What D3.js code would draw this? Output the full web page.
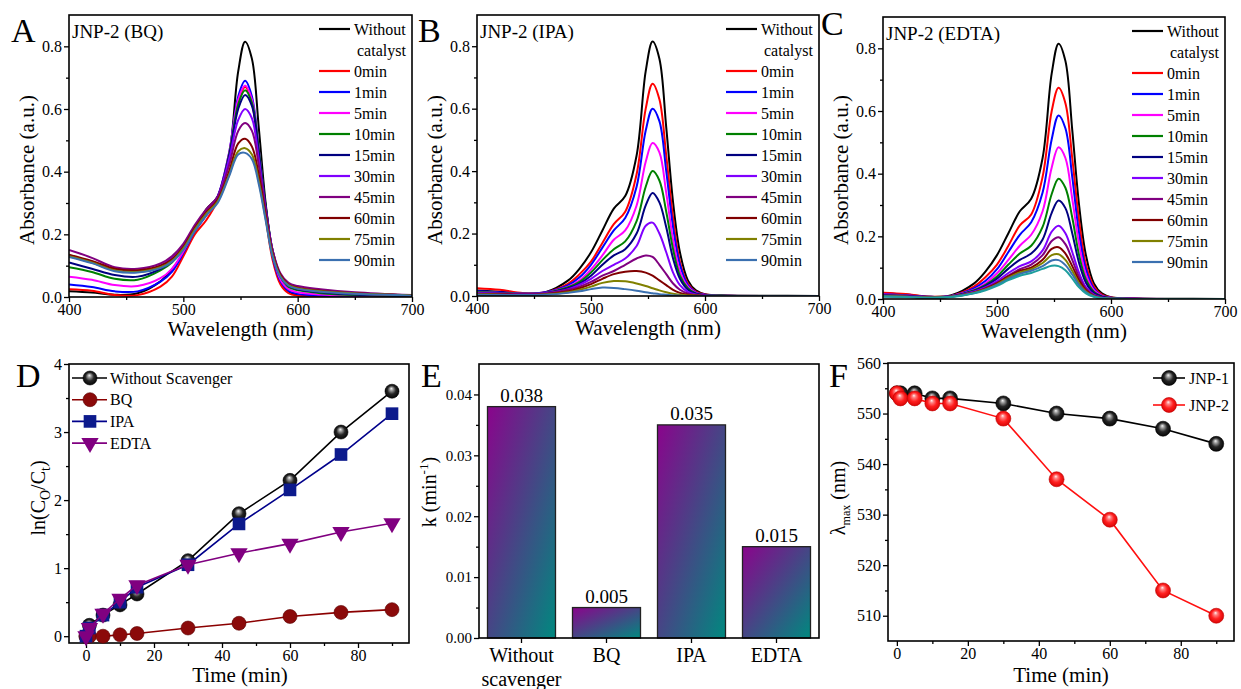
<!DOCTYPE html>
<html>
<head>
<meta charset="utf-8">
<script src="https://cdn.jsdelivr.net/npm/d3@7"></script>
<style>
body { margin: 0; background: #fff; }
svg { display: block; font-family: "Liberation Serif", "Times New Roman", serif; }
</style>
</head>
<body>
<script>
// ---- spectra (A, B, C) ----
const wavelengths = [400, 420, 440, 460, 480, 490, 500, 510, 520, 530, 540, 548, 554, 560, 566, 572, 578, 585, 592, 600, 620, 650, 700];
const specLabels = ["Without catalyst", "0min", "1min", "5min", "10min", "15min", "30min", "45min", "60min", "75min", "90min"];
const specColors = ["#000000", "#ff0000", "#0000ff", "#ff00ff", "#008000", "#000080", "#8000ff", "#800080", "#800000", "#808000", "#3a70b0", "#1e9e9e"];

const noCatalyst = [0.018, 0.014, 0.007, 0.012, 0.05, 0.088, 0.14, 0.21, 0.28, 0.32, 0.45, 0.72, 0.815, 0.76, 0.54, 0.3, 0.14, 0.05, 0.018, 0.006, 0.002, 0.001, 0];

const bqSpectra = [
  [0.025, 0.02, 0.006, 0.006, 0.033, 0.065, 0.13, 0.2, 0.245, 0.31, 0.45, 0.62, 0.67, 0.62, 0.45, 0.26, 0.12, 0.04, 0.012, 0.004, 0.002, 0.001, 0],
  [0.04, 0.032, 0.018, 0.018, 0.049, 0.08, 0.14, 0.21, 0.26, 0.32, 0.46, 0.64, 0.69, 0.64, 0.47, 0.28, 0.13, 0.05, 0.02, 0.01, 0.005, 0.003, 0.002],
  [0.065, 0.055, 0.038, 0.035, 0.06, 0.09, 0.145, 0.215, 0.265, 0.32, 0.46, 0.63, 0.675, 0.63, 0.47, 0.28, 0.14, 0.055, 0.025, 0.015, 0.008, 0.004, 0.002],
  [0.095, 0.08, 0.058, 0.055, 0.085, 0.11, 0.155, 0.22, 0.27, 0.32, 0.455, 0.615, 0.66, 0.62, 0.47, 0.29, 0.15, 0.065, 0.032, 0.022, 0.012, 0.006, 0.003],
  [0.11, 0.09, 0.07, 0.065, 0.09, 0.115, 0.16, 0.22, 0.27, 0.32, 0.45, 0.6, 0.645, 0.61, 0.46, 0.29, 0.15, 0.065, 0.035, 0.025, 0.015, 0.008, 0.004],
  [0.13, 0.11, 0.085, 0.08, 0.1, 0.125, 0.165, 0.225, 0.275, 0.32, 0.44, 0.565, 0.6, 0.57, 0.44, 0.28, 0.15, 0.07, 0.04, 0.03, 0.02, 0.012, 0.005],
  [0.15, 0.125, 0.095, 0.09, 0.107, 0.13, 0.17, 0.23, 0.28, 0.32, 0.42, 0.53, 0.555, 0.53, 0.42, 0.28, 0.15, 0.075, 0.045, 0.035, 0.025, 0.015, 0.006],
  [0.135, 0.115, 0.09, 0.085, 0.1, 0.12, 0.16, 0.22, 0.27, 0.31, 0.4, 0.49, 0.505, 0.48, 0.39, 0.26, 0.14, 0.07, 0.04, 0.03, 0.02, 0.012, 0.005],
  [0.13, 0.11, 0.085, 0.08, 0.095, 0.115, 0.155, 0.215, 0.265, 0.305, 0.39, 0.465, 0.475, 0.455, 0.37, 0.25, 0.135, 0.065, 0.038, 0.028, 0.018, 0.011, 0.005],
  [0.128, 0.108, 0.082, 0.078, 0.092, 0.112, 0.15, 0.21, 0.26, 0.3, 0.385, 0.455, 0.46, 0.44, 0.36, 0.245, 0.13, 0.063, 0.036, 0.026, 0.017, 0.01, 0.004]
];

const ipaSpectra = [
  [0.025, 0.02, 0.01, 0.012, 0.04, 0.07, 0.11, 0.17, 0.23, 0.27, 0.39, 0.6, 0.68, 0.63, 0.45, 0.25, 0.11, 0.04, 0.014, 0.005, 0.001, 0, 0],
  [0.015, 0.012, 0.008, 0.012, 0.035, 0.06, 0.1, 0.155, 0.21, 0.25, 0.35, 0.53, 0.6, 0.56, 0.4, 0.22, 0.1, 0.035, 0.012, 0.004, 0.001, 0, 0],
  [0.012, 0.01, 0.007, 0.01, 0.03, 0.05, 0.085, 0.13, 0.18, 0.21, 0.29, 0.43, 0.49, 0.46, 0.33, 0.18, 0.08, 0.03, 0.01, 0.003, 0.001, 0, 0],
  [0.012, 0.01, 0.007, 0.01, 0.028, 0.045, 0.075, 0.115, 0.15, 0.175, 0.24, 0.35, 0.4, 0.37, 0.27, 0.15, 0.065, 0.025, 0.008, 0.003, 0.001, 0, 0],
  [0.01, 0.008, 0.006, 0.009, 0.025, 0.04, 0.065, 0.1, 0.13, 0.15, 0.2, 0.29, 0.33, 0.3, 0.22, 0.12, 0.055, 0.02, 0.007, 0.002, 0, 0, 0],
  [0.01, 0.008, 0.006, 0.009, 0.022, 0.036, 0.055, 0.08, 0.1, 0.12, 0.16, 0.225, 0.235, 0.2, 0.14, 0.075, 0.035, 0.013, 0.005, 0.002, 0, 0, 0],
  [0.008, 0.007, 0.005, 0.008, 0.02, 0.03, 0.045, 0.065, 0.08, 0.1, 0.12, 0.13, 0.125, 0.1, 0.07, 0.04, 0.02, 0.008, 0.003, 0.001, 0, 0, 0],
  [0.006, 0.005, 0.004, 0.006, 0.015, 0.025, 0.038, 0.055, 0.07, 0.078, 0.08, 0.075, 0.065, 0.05, 0.035, 0.02, 0.01, 0.004, 0.002, 0, 0, 0, 0],
  [0.005, 0.004, 0.003, 0.005, 0.012, 0.02, 0.03, 0.042, 0.048, 0.047, 0.04, 0.032, 0.025, 0.018, 0.012, 0.007, 0.004, 0.002, 0.001, 0, 0, 0, 0],
  [0.004, 0.003, 0.003, 0.004, 0.01, 0.015, 0.022, 0.027, 0.026, 0.022, 0.017, 0.012, 0.009, 0.006, 0.004, 0.002, 0.001, 0, 0, 0, 0, 0, 0]
];

// EDTA has one more (unlabelled) trace below 90min
const edtaSpectra = [
  [0.02, 0.016, 0.008, 0.01, 0.04, 0.07, 0.11, 0.17, 0.235, 0.27, 0.39, 0.6, 0.674, 0.625, 0.45, 0.25, 0.11, 0.04, 0.014, 0.005, 0.001, 0, 0],
  [0.015, 0.012, 0.007, 0.01, 0.035, 0.058, 0.095, 0.15, 0.205, 0.245, 0.34, 0.51, 0.586, 0.545, 0.39, 0.21, 0.095, 0.033, 0.011, 0.004, 0.001, 0, 0],
  [0.014, 0.011, 0.006, 0.01, 0.03, 0.05, 0.082, 0.125, 0.17, 0.205, 0.28, 0.42, 0.484, 0.45, 0.32, 0.175, 0.078, 0.028, 0.01, 0.003, 0.001, 0, 0],
  [0.013, 0.01, 0.006, 0.009, 0.028, 0.045, 0.072, 0.11, 0.145, 0.17, 0.23, 0.335, 0.384, 0.355, 0.26, 0.14, 0.063, 0.023, 0.008, 0.003, 0, 0, 0],
  [0.012, 0.01, 0.005, 0.009, 0.026, 0.042, 0.065, 0.097, 0.125, 0.145, 0.19, 0.275, 0.314, 0.29, 0.21, 0.115, 0.052, 0.019, 0.007, 0.002, 0, 0, 0],
  [0.011, 0.009, 0.005, 0.008, 0.024, 0.038, 0.057, 0.083, 0.105, 0.12, 0.155, 0.215, 0.234, 0.21, 0.15, 0.083, 0.038, 0.014, 0.005, 0.002, 0, 0, 0],
  [0.01, 0.008, 0.005, 0.008, 0.022, 0.035, 0.052, 0.075, 0.095, 0.11, 0.14, 0.185, 0.197, 0.175, 0.125, 0.07, 0.033, 0.012, 0.004, 0.001, 0, 0, 0],
  [0.01, 0.008, 0.005, 0.008, 0.021, 0.033, 0.05, 0.072, 0.09, 0.1, 0.125, 0.16, 0.165, 0.145, 0.105, 0.06, 0.028, 0.01, 0.004, 0.001, 0, 0, 0],
  [0.009, 0.007, 0.005, 0.007, 0.02, 0.031, 0.047, 0.068, 0.085, 0.095, 0.115, 0.14, 0.143, 0.125, 0.09, 0.05, 0.024, 0.009, 0.003, 0.001, 0, 0, 0],
  [0.008, 0.007, 0.004, 0.007, 0.019, 0.03, 0.045, 0.064, 0.08, 0.09, 0.105, 0.123, 0.124, 0.108, 0.078, 0.044, 0.021, 0.008, 0.003, 0.001, 0, 0, 0],
  [0.008, 0.006, 0.004, 0.006, 0.018, 0.028, 0.042, 0.06, 0.074, 0.083, 0.096, 0.106, 0.105, 0.092, 0.066, 0.037, 0.018, 0.007, 0.002, 0.001, 0, 0, 0]
];

// ---- kinetics (D) ----
const times = [0, 1, 5, 10, 15, 30, 45, 60, 75, 90];
const lnWithout = [0, 0.16, 0.31, 0.46, 0.62, 1.11, 1.8, 2.29, 3.0, 3.6];
const lnBQ = [0, 0, 0, 0.02, 0.04, 0.12, 0.19, 0.29, 0.35, 0.39];
const lnIPA = [0, 0.12, 0.31, 0.5, 0.72, 1.05, 1.65, 2.15, 2.67, 3.27];
const lnEDTA = [0, 0.12, 0.33, 0.55, 0.75, 1.05, 1.22, 1.36, 1.53, 1.66];

// ---- rate constants (E) ----
const scavengers = ["Without scavenger", "BQ", "IPA", "EDTA"];
const kValues = [0.038, 0.005, 0.035, 0.015];

// ---- lambda max (F) ----
const lamJNP1 = [554, 554, 554, 553, 553, 552, 550, 549, 547, 544];
const lamJNP2 = [554, 553, 553, 552, 552, 549, 537, 529, 515, 510];

const width = 1241, height = 689;
const FONT = '"Liberation Serif", "Times New Roman", serif';

const svg = d3.select("body").append("svg")
  .attr("width", width)
  .attr("height", height)
  .attr("font-family", FONT);
const defs = svg.append("defs");

function sphereGrad(id, stops) {
  const rg = defs.append("radialGradient").attr("id", id)
    .attr("cx", "50%").attr("cy", "50%").attr("r", "55%")
    .attr("fx", "45%").attr("fy", "30%");
  stops.forEach(s => rg.append("stop").attr("offset", s[0]).attr("stop-color", s[1]));
}
sphereGrad("sphereBlack", [["0%", "#f4f4f4"], ["22%", "#9a9a9a"], ["55%", "#262626"], ["100%", "#000"]]);
sphereGrad("sphereRed", [["0%", "#fff2f2"], ["22%", "#ff8080"], ["55%", "#ff2020"], ["100%", "#d40000"]]);

const barGrad = defs.append("linearGradient").attr("id", "barGrad")
  .attr("x1", 0).attr("y1", 0).attr("x2", 1).attr("y2", 1);
barGrad.append("stop").attr("offset", "0%").attr("stop-color", "#8a048c");
barGrad.append("stop").attr("offset", "100%").attr("stop-color", "#00897f");

function axes(g, x, y, o) {
  const [x0, x1] = x.range(), [y0, y1] = y.range();
  const bottom = g.append("g").attr("transform", `translate(0,${y0})`);
  if (o.xMinor) bottom.append("g").call(d3.axisBottom(x).tickValues(o.xMinor).tickSize(3).tickFormat(""));
  bottom.append("g").call(d3.axisBottom(x).tickValues(o.xMajor).tickSize(5).tickPadding(2).tickFormat(o.xFmt || d3.format("d")));
  const left = g.append("g").attr("transform", `translate(${x0},0)`);
  left.append("g").call(d3.axisLeft(y).tickValues(o.yMinor).tickSize(3).tickFormat(""));
  left.append("g").call(d3.axisLeft(y).tickValues(o.yMajor).tickSize(5).tickPadding(2).tickFormat(o.yFmt));
  g.selectAll(".domain").remove();
  g.selectAll(".tick line").attr("stroke", "#000").attr("stroke-width", 1.3);
  g.selectAll(".tick text").attr("font-size", 16).attr("font-family", FONT).attr("fill", "#000");
  g.append("rect")
    .attr("x", x0).attr("y", y1)
    .attr("width", x1 - x0).attr("height", y0 - y1)
    .attr("fill", "none").attr("stroke", "#000").attr("stroke-width", 1.6);
}

function letter(t, x, y) {
  svg.append("text").attr("x", x).attr("y", y).attr("font-size", 34).text(t);
}

function spectrumPanel(o) {
  const x = d3.scaleLinear().domain([400, 700]).range([o.l, o.r]);
  const y = d3.scaleLinear().domain([0, 0.9]).range([o.b, o.t]);
  const g = svg.append("g");
  defs.append("clipPath").attr("id", o.id)
    .append("rect").attr("x", o.l).attr("y", o.t).attr("width", o.r - o.l).attr("height", o.b - o.t);

  const line = d3.line()
    .x((d, i) => x(wavelengths[i]))
    .y(d => y(d))
    .curve(d3.curveCatmullRom.alpha(0.5));

  const series = [noCatalyst].concat(o.data);
  g.append("g").attr("clip-path", `url(#${o.id})`)
    .selectAll("path").data(series).join("path")
    .attr("d", d => line(d))
    .attr("fill", "none")
    .attr("stroke", (d, i) => specColors[i])
    .attr("stroke-width", 2);

  axes(g, x, y, {
    xMajor: [400, 500, 600, 700], xMinor: [450, 550, 650],
    yMajor: [0, 0.2, 0.4, 0.6, 0.8], yMinor: [0.1, 0.3, 0.5, 0.7],
    yFmt: d3.format(".1f")
  });

  // legend
  let row = 0;
  specLabels.forEach((lab, i) => {
    const yy = o.t + 14 + row * 21;
    g.append("line").attr("x1", o.r - 93).attr("x2", o.r - 62).attr("y1", yy).attr("y2", yy)
      .attr("stroke", specColors[i]).attr("stroke-width", 2.2);
    lab.split(" ").forEach((word, k) => {
      g.append("text").attr("x", o.r - 58 + k * 3).attr("y", o.t + 14 + row * 21).attr("dy", "0.35em")
        .attr("font-size", 16).text(word);
      row++;
    });
  });

  g.append("text").attr("x", o.l + 3).attr("y", o.t + 23).attr("font-size", 19).text(o.title);
  g.append("text").attr("transform", `translate(${o.l - 35},170) rotate(-90)`)
    .attr("text-anchor", "middle").attr("font-size", 21).text("Absorbance (a.u.)");
  g.append("text").attr("x", (o.l + o.r) / 2).attr("y", o.b + 39)
    .attr("text-anchor", "middle").attr("font-size", 21).text("Wavelength (nm)");
}

spectrumPanel({ id: "clipA", l: 69, r: 412, t: 15, b: 297, data: bqSpectra, title: "JNP-2 (BQ)" });
spectrumPanel({ id: "clipB", l: 477, r: 819, t: 15, b: 296, data: ipaSpectra, title: "JNP-2 (IPA)" });
spectrumPanel({ id: "clipC", l: 883, r: 1225, t: 17, b: 299, data: edtaSpectra, title: "JNP-2 (EDTA)" });
letter("A", 11, 42);
letter("B", 418, 42);
letter("C", 821, 35);

// ---- D ----
(function () {
  const x = d3.scaleLinear().domain([-5, 95]).range([69, 409]);
  const y = d3.scaleLinear().domain([-0.1, 4]).range([643, 364]);
  const g = svg.append("g");
  axes(g, x, y, {
    xMajor: [0, 20, 40, 60, 80], xMinor: [10, 30, 50, 70, 90],
    yMajor: [0, 1, 2, 3, 4], yMinor: [0.5, 1.5, 2.5, 3.5],
    yFmt: d3.format("d")
  });
  const sets = [
    { name: "Without Scavenger", vals: lnWithout, line: "#000", fill: "url(#sphereBlack)", sym: "sphere" },
    { name: "BQ", vals: lnBQ, line: "#8b0000", fill: "#8b0a0a", sym: "circle" },
    { name: "IPA", vals: lnIPA, line: "#00008b", fill: "#0c1a8c", sym: "square" },
    { name: "EDTA", vals: lnEDTA, line: "#800080", fill: "#800080", sym: "tri" }
  ];
  const line = d3.line().x((d, i) => x(times[i])).y(d => y(d));
  function marker(sel, s) {
    if (s.sym === "sphere" || s.sym === "circle") {
      sel.append("circle").attr("r", 7).attr("fill", s.fill)
        .attr("stroke", s.sym === "sphere" ? "#000" : "#5a0000").attr("stroke-width", 0.6);
    } else if (s.sym === "square") {
      sel.append("path").attr("d", d3.symbol().type(d3.symbolSquare).size(160)()).attr("fill", s.fill);
    } else {
      sel.append("path").attr("d", d3.symbol().type(d3.symbolTriangle).size(130)())
        .attr("transform", "rotate(180)").attr("fill", s.fill);
    }
  }
  sets.forEach(s => {
    g.append("path").attr("d", line(s.vals)).attr("fill", "none").attr("stroke", s.line).attr("stroke-width", 1.6);
    s.vals.forEach((v, i) => {
      marker(g.append("g").attr("transform", `translate(${x(times[i])},${y(v)})`), s);
    });
  });
  sets.forEach((s, i) => {
    const yy = 378 + i * 21.7;
    g.append("line").attr("x1", 72).attr("x2", 107).attr("y1", yy).attr("y2", yy).attr("stroke", s.line).attr("stroke-width", 1.6);
    marker(g.append("g").attr("transform", `translate(90,${yy})`), s);
    g.append("text").attr("x", 110).attr("y", yy).attr("dy", "0.35em").attr("font-size", 16).text(s.name);
  });
  const yl = g.append("text").attr("transform", "translate(45,498) rotate(-90)")
    .attr("text-anchor", "middle").attr("font-size", 20);
  yl.append("tspan").text("ln(C");
  yl.append("tspan").attr("font-size", 14).attr("dy", 5).text("O");
  yl.append("tspan").attr("dy", -5).text("/C");
  yl.append("tspan").attr("font-size", 14).attr("dy", 5).text("t");
  yl.append("tspan").attr("dy", -5).text(")");
  g.append("text").attr("x", 240).attr("y", 682).attr("text-anchor", "middle").attr("font-size", 21).text("Time (min)");
})();
letter("D", 16, 387);

// ---- E ----
(function () {
  const x = d3.scaleBand().domain(scavengers).range([479, 819]).paddingInner(0.2).paddingOuter(0.1);
  const y = d3.scaleLinear().domain([0, 0.045]).range([638, 364]);
  const g = svg.append("g");
  g.selectAll("rect.bar").data(kValues).join("rect").attr("class", "bar")
    .attr("x", (d, i) => x(scavengers[i]))
    .attr("y", d => y(d))
    .attr("width", x.bandwidth())
    .attr("height", d => y(0) - y(d))
    .attr("fill", "url(#barGrad)")
    .attr("stroke", "#222").attr("stroke-width", 1.3);
  g.selectAll("text.val").data(kValues).join("text").attr("class", "val")
    .attr("x", (d, i) => x(scavengers[i]) + x.bandwidth() / 2)
    .attr("y", d => y(d) - 5)
    .attr("text-anchor", "middle").attr("font-size", 19)
    .text(d3.format(".3f"));
  const l = g.append("g").attr("transform", "translate(479,0)");
  l.append("g").call(d3.axisLeft(y).tickValues([0.005, 0.015, 0.025, 0.035]).tickSize(3).tickFormat(""));
  l.append("g").call(d3.axisLeft(y).tickValues([0, 0.01, 0.02, 0.03, 0.04]).tickSize(5).tickPadding(2).tickFormat(d3.format(".2f")));
  g.append("g").attr("transform", "translate(0,638)")
    .call(d3.axisBottom(x).tickSize(5).tickFormat(""));
  g.selectAll(".domain").remove();
  g.selectAll(".tick line").attr("stroke", "#000").attr("stroke-width", 1.3);
  g.selectAll(".tick text").attr("font-size", 15).attr("font-family", FONT).attr("fill", "#000");
  g.append("rect").attr("x", 479).attr("y", 364).attr("width", 340).attr("height", 274)
    .attr("fill", "none").attr("stroke", "#000").attr("stroke-width", 1.6);
  scavengers.forEach(c => {
    c.split(" ").forEach((w, k) => {
      g.append("text").attr("x", x(c) + x.bandwidth() / 2).attr("y", 662 + k * 24)
        .attr("text-anchor", "middle").attr("font-size", 20).text(w);
    });
  });
  const yl = g.append("text").attr("transform", "translate(436,492) rotate(-90)")
    .attr("text-anchor", "middle").attr("font-size", 20);
  yl.append("tspan").text("k (min");
  yl.append("tspan").attr("font-size", 13).attr("dy", -8).text("-1");
  yl.append("tspan").attr("dy", 8).text(")");
})();
letter("E", 421, 387);

// ---- F ----
(function () {
  const x = d3.scaleLinear().domain([-2.5, 95]).range([888, 1234]);
  const y = d3.scaleLinear().domain([505, 560]).range([641, 363]);
  const g = svg.append("g");
  axes(g, x, y, {
    xMajor: [0, 20, 40, 60, 80], xMinor: [10, 30, 50, 70, 90],
    yMajor: [510, 520, 530, 540, 550, 560], yMinor: [515, 525, 535, 545, 555],
    yFmt: d3.format("d")
  });
  const sets = [
    { name: "JNP-1", vals: lamJNP1, line: "#000", fill: "url(#sphereBlack)", edge: "#000" },
    { name: "JNP-2", vals: lamJNP2, line: "#ff1010", fill: "url(#sphereRed)", edge: "#c00000" }
  ];
  const line = d3.line().x((d, i) => x(times[i])).y(d => y(d));
  sets.forEach(s => {
    g.append("path").attr("d", line(s.vals)).attr("fill", "none").attr("stroke", s.line).attr("stroke-width", 1.6);
    g.selectAll(null).data(s.vals).join("circle")
      .attr("cx", (d, i) => x(times[i])).attr("cy", d => y(d)).attr("r", 7.5)
      .attr("fill", s.fill).attr("stroke", s.edge).attr("stroke-width", 0.6);
  });
  sets.forEach((s, i) => {
    const yy = 378 + i * 27;
    g.append("line").attr("x1", 1153).attr("x2", 1185).attr("y1", yy).attr("y2", yy).attr("stroke", s.line).attr("stroke-width", 1.6);
    g.append("circle").attr("cx", 1169).attr("cy", yy).attr("r", 7.5).attr("fill", s.fill).attr("stroke", s.edge).attr("stroke-width", 0.6);
    g.append("text").attr("x", 1189).attr("y", yy).attr("dy", "0.35em").attr("font-size", 16).text(s.name);
  });
  const yl = g.append("text").attr("transform", "translate(845,498) rotate(-90)")
    .attr("text-anchor", "middle").attr("font-size", 20);
  yl.append("tspan").text("λ");
  yl.append("tspan").attr("font-size", 12).attr("dy", 5).text("max");
  yl.append("tspan").attr("dy", -5).text(" (nm)");
  g.append("text").attr("x", 1061).attr("y", 682).attr("text-anchor", "middle").attr("font-size", 21).text("Time (min)");
})();
letter("F", 829, 387);
</script>
</body>
</html>
